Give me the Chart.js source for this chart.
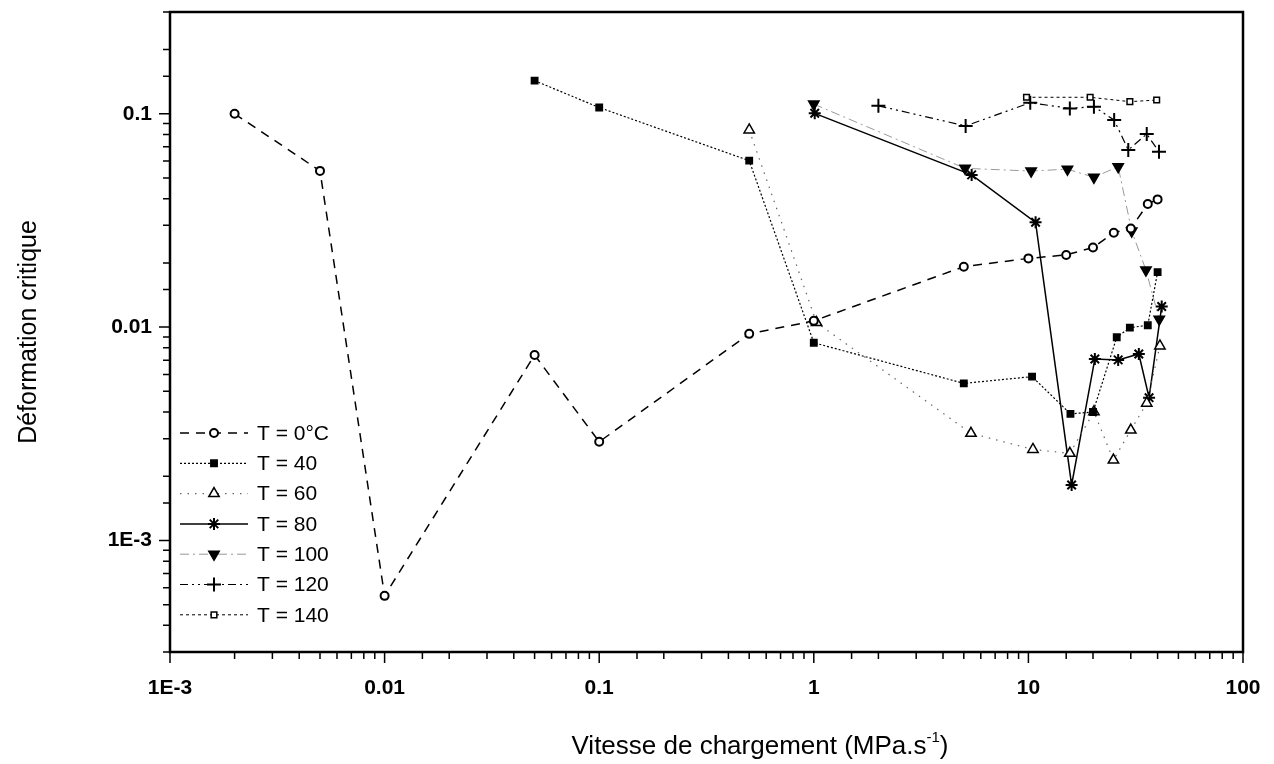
<!DOCTYPE html>
<html lang="fr">
<head>
<meta charset="utf-8">
<title>Déformation critique</title>
<script src="https://cdn.jsdelivr.net/npm/chart.js@4/dist/chart.umd.min.js"></script>
<style>
  html, body { margin: 0; padding: 0; background: #fff; }
  canvas { display: block; }
</style>
</head>
<body>
<canvas id="chart" width="1274" height="764"></canvas>
<script>
// Loading rate (MPa/s) and critical strain, one pair of arrays per temperature
const rate0 = [0.002, 0.005, 0.01, 0.05, 0.1, 0.5, 1, 5, 10, 15, 20, 25, 30, 36, 40];
const strain0 = [0.1, 0.054, 0.00055, 0.0074, 0.0029, 0.0093, 0.0107, 0.0192, 0.021, 0.0218, 0.0236, 0.0277, 0.029, 0.0378, 0.0397];

const rate40 = [0.05, 0.1, 0.5, 1, 5, 10.4, 15.7, 20, 25.8, 29.7, 36, 40];
const strain40 = [0.143, 0.107, 0.0603, 0.00845, 0.00545, 0.00586, 0.00392, 0.004, 0.00896, 0.00994, 0.0102, 0.0181];

const rate60 = [0.5, 1.03, 5.4, 10.5, 15.6, 20.2, 24.9, 30, 35.6, 41];
const strain60 = [0.084, 0.0105, 0.00318, 0.00267, 0.00256, 0.00401, 0.00238, 0.00329, 0.0044, 0.00816];

const rate80 = [1.01, 5.44, 10.8, 15.9, 20.4, 26.2, 32.7, 36.5, 41.8];
const strain80 = [0.1005, 0.0517, 0.031, 0.00182, 0.00709, 0.00702, 0.00748, 0.00467, 0.0125];

const rate100 = [1, 5.07, 10.3, 15.2, 20.2, 26.2, 30.3, 35.3, 40.7];
const strain100 = [0.111, 0.0555, 0.0539, 0.055, 0.0504, 0.0565, 0.0282, 0.0185, 0.0109];

const rate120 = [2, 5.1, 10.2, 15.6, 20.2, 25.1, 29.2, 35.6, 40.6];
const strain120 = [0.109, 0.0877, 0.1127, 0.106, 0.108, 0.0935, 0.0677, 0.0804, 0.0664];

const rate140 = [9.8, 19.4, 29.7, 39.6];
const strain140 = [0.1195, 0.1195, 0.114, 0.116];

const seriesLabels = ['T = 0°C', 'T = 40', 'T = 60', 'T = 80', 'T = 100', 'T = 120', 'T = 140'];

// Decade labels, indexed by exponent
const xTickLabels = { '-3': '1E-3', '-2': '0.01', '-1': '0.1', '0': '1', '1': '10', '2': '100' };
const yTickLabels = { '-3': '1E-3', '-2': '0.01', '-1': '0.1' };

const FONT = '"Liberation Sans", Arial, sans-serif';

function toPoints(xs, ys) {
  return xs.map((x, i) => ({ x: x, y: ys[i] }));
}

function makeDataset(label, xs, ys, style) {
  return {
    label: label,
    data: toPoints(xs, ys),
    showLine: true,
    borderColor: style.lineColor || '#000',
    borderWidth: style.lineWidth || 1.2,
    borderDash: style.dash || [],
    pointStyle: style.point,
    pointRotation: style.rotation || 0,
    pointRadius: style.radius,
    pointBorderWidth: style.pointBorder || 1.5,
    pointBorderColor: '#000',
    pointBackgroundColor: style.filled ? '#000' : '#fff'
  };
}

const datasets = [
  makeDataset(seriesLabels[0], rate0, strain0, { point: 'circle', radius: 4, pointBorder: 2, dash: [9, 7], lineWidth: 1.5 }),
  makeDataset(seriesLabels[1], rate40, strain40, { point: 'rect', radius: 4.5, filled: true, dash: [2, 2], lineWidth: 1.2 }),
  makeDataset(seriesLabels[2], rate60, strain60, { point: 'triangle', radius: 6, dash: [1.5, 6], lineColor: '#666', lineWidth: 1.2 }),
  makeDataset(seriesLabels[3], rate80, strain80, { point: 'star', radius: 6, pointBorder: 2, lineWidth: 1.5 }),
  makeDataset(seriesLabels[4], rate100, strain100, { point: 'triangle', rotation: 180, radius: 6, filled: true, dash: [9, 4, 2, 4], lineColor: '#999', lineWidth: 1 }),
  makeDataset(seriesLabels[5], rate120, strain120, { point: 'cross', radius: 7, pointBorder: 2, dash: [8, 4, 2, 4, 2, 4], lineWidth: 1.2 }),
  makeDataset(seriesLabels[6], rate140, strain140, { point: 'rect', radius: 4, pointBorder: 1.5, dash: [3, 3], lineWidth: 1 })
];

const isDecade = (v) => Math.abs(Math.log10(v) - Math.round(Math.log10(v))) < 1e-6;

/**
 * Frame around plot area and outward tick marks (longer on decades)
 */
const frameAndTicks = {
  id: 'frameAndTicks',
  afterDraw(chart) {
    const { ctx, chartArea: a, scales } = chart;
    ctx.save();
    ctx.strokeStyle = '#000';
    ctx.lineWidth = 1.5;
    ctx.beginPath();
    scales.x.ticks.forEach(t => {
      const px = scales.x.getPixelForValue(t.value);
      const len = isDecade(t.value) ? 11 : 7;
      ctx.moveTo(px, a.bottom);
      ctx.lineTo(px, a.bottom + len);
    });
    scales.y.ticks.forEach(t => {
      const py = scales.y.getPixelForValue(t.value);
      const len = isDecade(t.value) ? 11 : 7;
      ctx.moveTo(a.left, py);
      ctx.lineTo(a.left - len, py);
    });
    ctx.stroke();
    ctx.lineWidth = 2.5;
    ctx.strokeRect(a.left, a.top, a.right - a.left, a.bottom - a.top);
    ctx.restore();
  }
};

/**
 * X axis title, sitting a bit right of centre as in the original, with a raised "-1"
 */
const xTitle = {
  id: 'xTitle',
  afterDraw(chart) {
    const { ctx } = chart;
    const main = 'Vitesse de chargement (MPa.s';
    const sup = '-1';
    const tail = ')';
    ctx.save();
    ctx.fillStyle = '#000';
    ctx.textBaseline = 'alphabetic';
    ctx.textAlign = 'left';
    ctx.font = '26px ' + FONT;
    const wMain = ctx.measureText(main).width;
    const wTail = ctx.measureText(tail).width;
    ctx.font = '15px ' + FONT;
    const wSup = ctx.measureText(sup).width;
    const total = wMain + wSup + wTail;
    let x = 760 - total / 2;
    const base = 754;
    ctx.font = '26px ' + FONT;
    ctx.fillText(main, x, base);
    x += wMain;
    ctx.font = '15px ' + FONT;
    ctx.fillText(sup, x, base - 12);
    x += wSup;
    ctx.font = '26px ' + FONT;
    ctx.fillText(tail, x, base);
    ctx.restore();
  }
};

/**
 * Legend drawn inside the plot, lower left, with line sample and marker
 */
const insideLegend = {
  id: 'insideLegend',
  afterDraw(chart) {
    const { ctx, chartArea: a } = chart;
    const x0 = a.left + 10;
    const x1 = a.left + 78;
    const top = 433;
    const step = 30.3;
    ctx.save();
    chart.data.datasets.forEach((ds, i) => {
      const y = top + i * step;
      ctx.strokeStyle = ds.borderColor;
      ctx.lineWidth = ds.borderWidth;
      ctx.setLineDash(ds.borderDash);
      ctx.beginPath();
      ctx.moveTo(x0, y);
      ctx.lineTo(x1, y);
      ctx.stroke();
      ctx.setLineDash([]);
      ctx.strokeStyle = '#000';
      ctx.fillStyle = ds.pointBackgroundColor;
      ctx.lineWidth = ds.pointBorderWidth;
      Chart.helpers.drawPoint(ctx, {
        pointStyle: ds.pointStyle,
        rotation: ds.pointRotation,
        radius: ds.pointRadius,
        borderWidth: ds.pointBorderWidth
      }, (x0 + x1) / 2, y);
      ctx.fillStyle = '#000';
      ctx.font = '21px ' + FONT;
      ctx.textBaseline = 'middle';
      ctx.textAlign = 'left';
      ctx.fillText(ds.label, x1 + 9, y + 1);
    });
    ctx.restore();
  }
};

new Chart(document.getElementById('chart'), {
  type: 'scatter',
  data: { datasets: datasets },
  options: {
    responsive: false,
    animation: false,
    layout: { padding: { top: 12, right: 31, left: 0, bottom: 0 } },
    plugins: {
      legend: { display: false },
      tooltip: { enabled: false }
    },
    scales: {
      x: {
        type: 'logarithmic',
        min: 0.001,
        max: 100,
        border: { display: false },
        grid: { display: false, drawTicks: false },
        afterFit: (axis) => {
          axis.height = 112;
          axis.paddingLeft = 0;
          axis.paddingRight = 0;
        },
        ticks: {
          autoSkip: false,
          maxRotation: 0,
          padding: 24,
          color: '#000',
          font: { family: FONT, size: 21, weight: 'bold' },
          callback: (v) => isDecade(v) ? (xTickLabels[Math.round(Math.log10(v))] || '') : ''
        }
      },
      y: {
        type: 'logarithmic',
        min: 0.0003,
        max: 0.3,
        border: { display: false },
        grid: { display: false, drawTicks: false },
        afterFit: (axis) => {
          axis.width = 170;
          axis.paddingTop = 0;
          axis.paddingBottom = 0;
        },
        ticks: {
          autoSkip: false,
          padding: 18,
          color: '#000',
          font: { family: FONT, size: 21, weight: 'bold' },
          callback: (v) => isDecade(v) ? (yTickLabels[Math.round(Math.log10(v))] || '') : ''
        },
        title: {
          display: true,
          text: 'Déformation critique',
          color: '#000',
          font: { family: FONT, size: 25 },
          padding: { top: 14, bottom: 0 }
        }
      }
    }
  },
  plugins: [frameAndTicks, xTitle, insideLegend]
});
</script>
</body>
</html>
